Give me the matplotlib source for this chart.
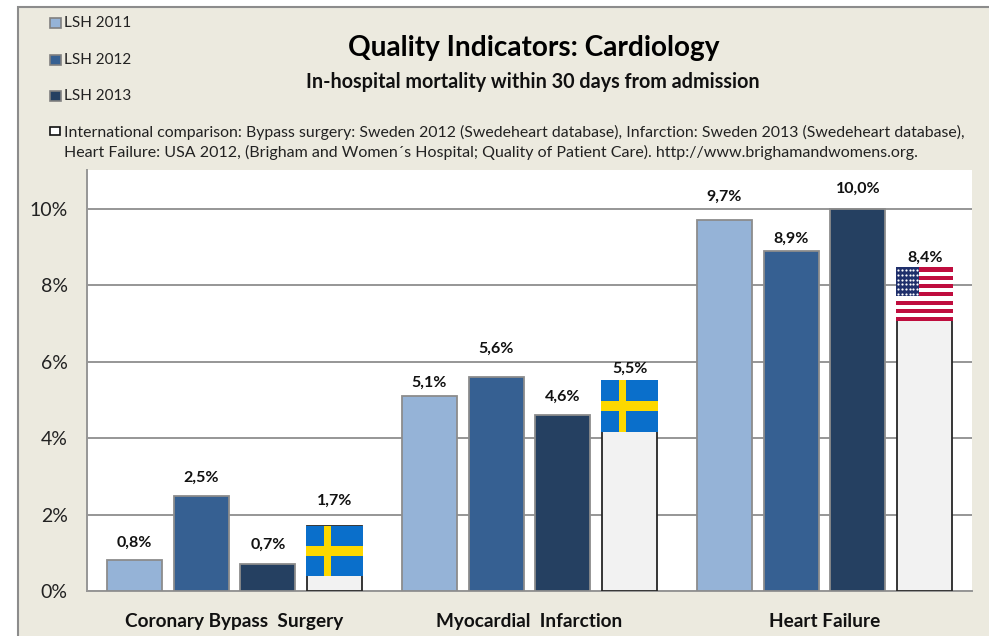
import numpy as np
import matplotlib
matplotlib.use('Agg')
import matplotlib.pyplot as plt
from matplotlib.patches import Rectangle

plt.rcParams['font.family'] = ['Lato', 'DejaVu Sans']

categories = ['Coronary Bypass  Surgery', 'Myocardial  Infarction', 'Heart Failure']
lsh_2011 = [0.8, 5.1, 9.7]
lsh_2012 = [2.5, 5.6, 8.9]
lsh_2013 = [0.7, 4.6, 10.0]
international = [1.7, 5.5, 8.4]
flags = ['se', 'se', 'us']
flag_heights = [1.31, 1.36, 1.41]
flag_lift = [0.0, 0.03, 0.07]
yticks = [0, 2, 4, 6, 8, 10]
legend_labels = ['LSH 2011', 'LSH 2012', 'LSH 2013']

# separacion etiqueta-barra en pixeles (las etiquetas estan colocadas a mano en el original)
label_gaps = [[18, 13, 24], [18, 28, 12], [19, 18, 20], [25, 12, 12]]

W, H = 989, 636
BG = '#ECEADF'
colors = ['#95B3D7', '#366092', '#254061', '#F2F2F2']
edges = ['#8C8C8C', '#8C8C8C', '#8C8C8C', '#262626']


def fx(px):
    return px / W


def fy(py):
    return 1 - py / H


def draw_sweden(ax, x0, top, w, h):
    ax.add_patch(Rectangle((x0, top - h), w, h, fc='#0A6FCB', ec='none', zorder=5))
    ax.add_patch(Rectangle((x0, top - h * 0.60), w, h * 0.20, fc='#FDD800', ec='none', zorder=6))
    ax.add_patch(Rectangle((x0 + w * 0.31, top - h), w * 0.12, h, fc='#FDD800', ec='none', zorder=6))


def draw_usa(ax, x0, top, w, h):
    ax.add_patch(Rectangle((x0, top - h), w, h, fc='white', ec='none', zorder=5))
    sh = h / 13
    for i in range(0, 13, 2):
        ax.add_patch(Rectangle((x0, top - (i + 1) * sh), w, sh, fc='#BF0D3E', ec='none', zorder=6))
    ax.add_patch(Rectangle((x0, top - 7 * sh), w * 0.40, 7 * sh, fc='#1F2F6B', ec='none', zorder=7))
    sx, sy = np.meshgrid(np.linspace(0.03, 0.37, 6), np.linspace(0.6, 6.4, 6))
    ax.scatter(x0 + w * sx.ravel(), top - sh * sy.ravel(), s=2.5, c='white', lw=0, zorder=8)


fig = plt.figure(figsize=(W / 100, H / 100), dpi=100, facecolor='white')

# fondo y borde del grafico
fig.patches.append(Rectangle((fx(18), -0.02), 1.1, fy(7) + 0.02, transform=fig.transFigure,
                             fc=BG, ec='#8C8C8C', lw=1.5, zorder=-1))

ax = fig.add_axes([fx(87), fy(591), fx(972 - 87), fy(170) - fy(591)])
ax.set_facecolor('white')

x = np.arange(len(categories))
step = 0.2265
width = 0.187
series = [lsh_2011, lsh_2012, lsh_2013, international]
for i, vals in enumerate(series):
    pos = x + (i - 1.5) * step
    ax.bar(pos, vals, width, color=colors[i], edgecolor=edges[i], linewidth=1.3, zorder=3)
    for p, v, gap in zip(pos, vals, label_gaps[i]):
        ax.annotate(f'{v:.1f}%'.replace('.', ','), (p, v), xytext=(0, gap * 0.72), textcoords='offset points',
                    ha='center', va='center', fontsize=11.5, fontweight='bold', color='#111111', zorder=9)

# banderas sobre las barras de comparacion
pos = x + 1.5 * step
flag_w = 0.193
for p, v, f, h, lift in zip(pos, international, flags, flag_heights, flag_lift):
    if f == 'se':
        draw_sweden(ax, p - flag_w / 2, v + lift, flag_w, h)
    else:
        draw_usa(ax, p - flag_w / 2, v + lift, flag_w, h)

ax.set_xlim(-0.5, 2.5)
ax.set_ylim(0, 421 / 38.2)
ax.set_yticks(yticks)
ax.set_yticklabels([f'{t}%' for t in yticks], fontsize=14, color='#222222')
ax.set_xticks(x)
ax.set_xticklabels(categories, fontsize=13.7, fontweight='bold', color='#111111')
ax.tick_params(axis='x', length=0, pad=15.5)
ax.tick_params(axis='y', length=0, pad=14)
ax.grid(axis='y', color='#969696', lw=1.4, zorder=1)
ax.set_axisbelow(True)
for s in ['top', 'right']:
    ax.spines[s].set_visible(False)
for s in ['left', 'bottom']:
    ax.spines[s].set_color('#969696')
    ax.spines[s].set_linewidth(1.4)

# titulos
fig.text(fx(534), fy(48), 'Quality Indicators: Cardiology', ha='center', va='center',
         fontsize=20.2, fontweight='bold', color='black')
fig.text(fx(533), fy(82), 'In-hospital mortality within 30 days from admission', ha='center', va='center',
         fontsize=14.2, fontweight='bold', color='#111111')

# leyenda
for label, c, py in zip(legend_labels, colors, [23, 60, 96]):
    fig.patches.append(Rectangle((fx(50), fy(py + 5)), 11 / W, 10 / H, transform=fig.transFigure,
                                 fc=c, ec='#808080', lw=1.2))
    fig.text(fx(64), fy(py), label, ha='left', va='center', fontsize=11, color='#222222')

fig.patches.append(Rectangle((fx(50), fy(135)), 10 / W, 8 / H, transform=fig.transFigure,
                             fc='white', ec='#111111', lw=1.2))
fig.text(fx(64), fy(132), 'International comparison: Bypass surgery: Sweden 2012 (Swedeheart database), '
         'Infarction: Sweden 2013 (Swedeheart database),', ha='left', va='center', fontsize=11.4, color='#222222')
fig.text(fx(64), fy(152), 'Heart Failure: USA 2012, (Brigham and Women´s Hospital; Quality of Patient Care). '
         'http://www.brighamandwomens.org.', ha='left', va='center', fontsize=11.5, color='#222222')

fig.savefig('out.png', dpi=100, facecolor='white')
